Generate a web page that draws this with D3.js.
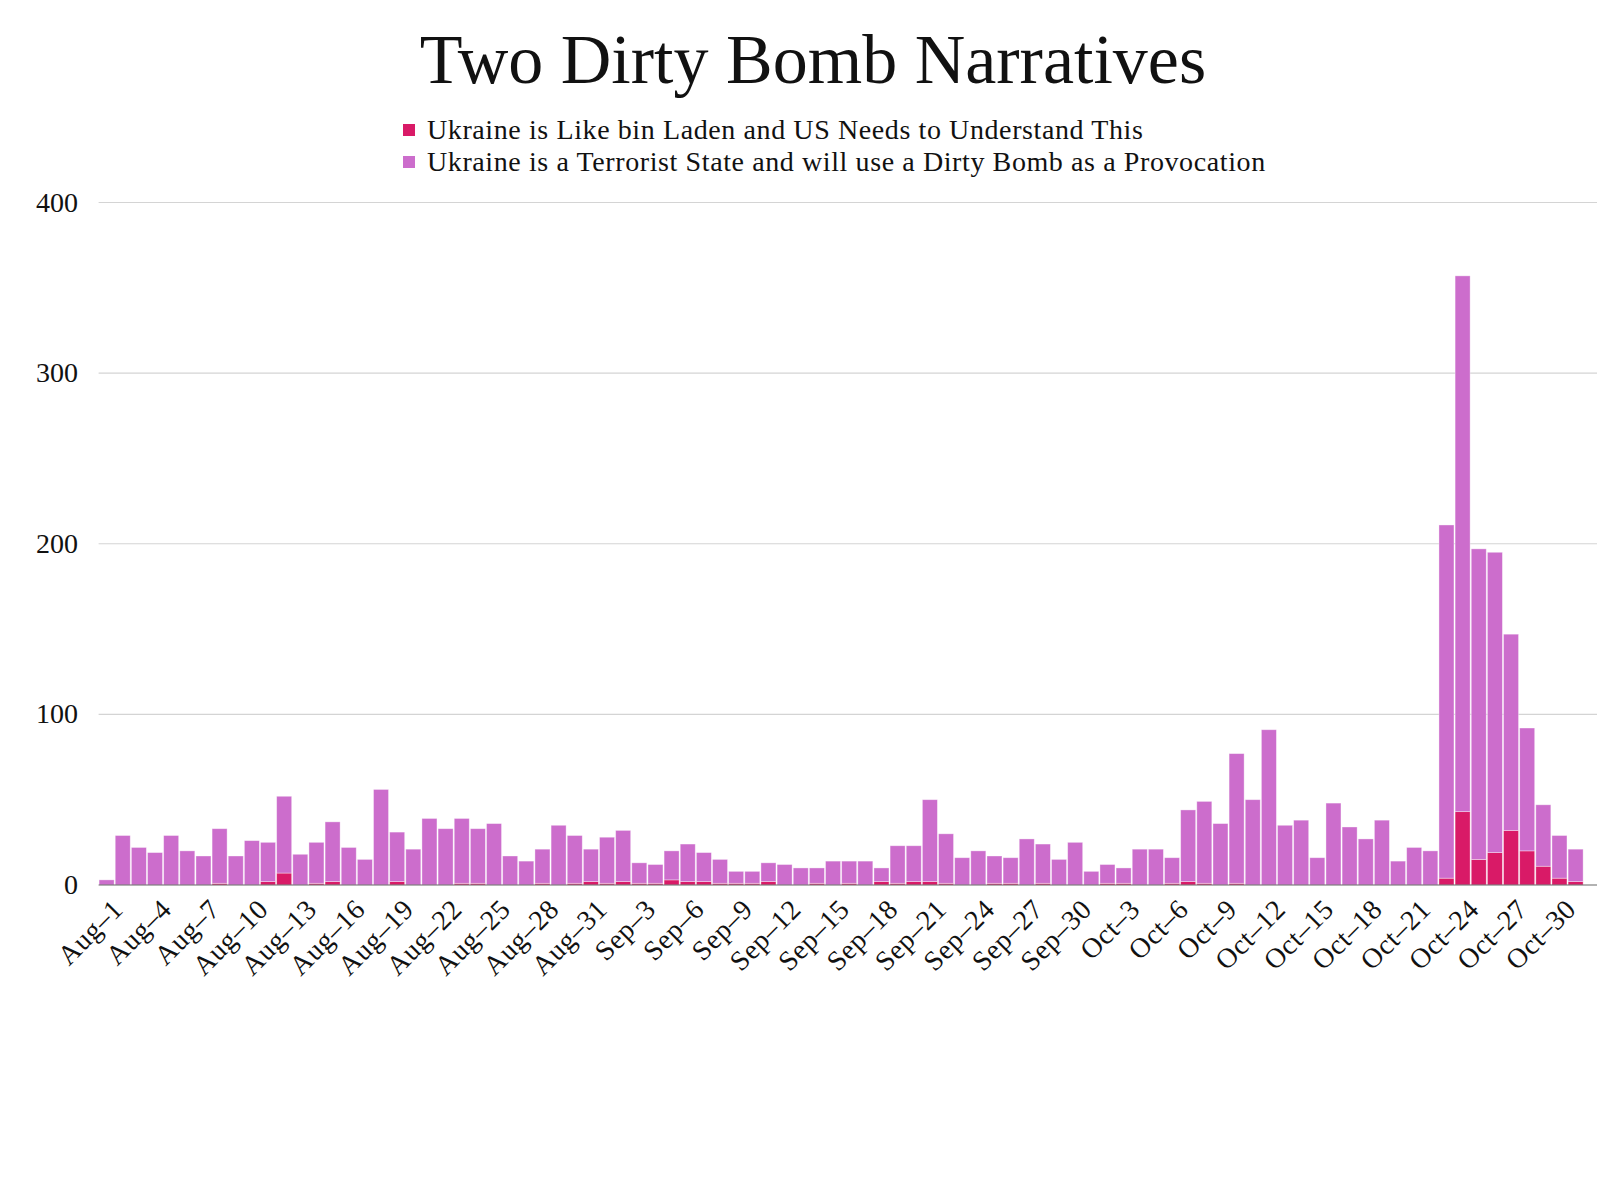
<!DOCTYPE html>
<html>
<head>
<meta charset="utf-8">
<script src="https://cdn.jsdelivr.net/npm/d3@7"></script>
<style>
  body { margin: 0; background: #fff; }
  svg text { font-family: "Liberation Serif", "DejaVu Serif", serif; fill: #111; }
</style>
</head>
<body>
<div id="chart"></div>
<script>
// daily counts, Aug 1 - Oct 31 (2022)
var binLaden = [
  0,0,0,0,0,0,0,1,0,0,2,7,0,1,2,0,0,0,2,0,0,0,1,1,0,0,0,1,0,1,2,
  1,2,1,1,3,2,2,1,1,1,2,0,0,1,0,1,0,2,1,2,2,1,0,0,1,1,0,1,0,0,
  0,1,1,0,0,1,2,1,0,1,0,0,0,0,0,0,0,0,0,0,0,0,4,43,15,19,32,20,11,4,2
];
var terrorist = [
  3,29,22,19,29,20,17,32,17,26,23,45,18,24,35,22,15,56,29,21,39,33,38,32,36,17,14,20,35,28,19,
  27,30,12,11,17,22,17,14,7,7,11,12,10,9,14,13,14,8,22,21,48,29,16,20,16,15,27,23,15,25,
  8,11,9,21,21,15,42,48,36,76,50,91,35,38,16,48,34,27,38,14,22,20,207,314,182,176,115,72,36,25,19
];
var seriesNames = [
  "Ukraine is Like bin Laden and US Needs to Understand This",
  "Ukraine is a Terrorist State and will use a Dirty Bomb as a Provocation"
];
var colors = ["#d91a67", "#cc6dcc"];
var yTicks = [0, 100, 200, 300, 400];
var tickLabels = ["Aug–1","Aug–4","Aug–7","Aug–10","Aug–13","Aug–16","Aug–19","Aug–22","Aug–25","Aug–28","Aug–31",
  "Sep–3","Sep–6","Sep–9","Sep–12","Sep–15","Sep–18","Sep–21","Sep–24","Sep–27","Sep–30",
  "Oct–3","Oct–6","Oct–9","Oct–12","Oct–15","Oct–18","Oct–21","Oct–24","Oct–27","Oct–30"];

var days = d3.timeDay.range(new Date(2022, 7, 1), new Date(2022, 10, 1));
var fmt = d3.timeFormat("%b–%-d");
var cats = days.map(fmt);

var width = 1620, height = 1200;
var x0 = 98.6, x1 = 1583.6, gridRight = 1597;

var svg = d3.select("#chart").append("svg")
    .attr("width", width)
    .attr("height", height);

var x = d3.scaleBand().domain(cats).range([x0, x1]).paddingInner(0.07).paddingOuter(0.03);
var y = d3.scaleLinear().domain([0, 400]).range([885, 202.5]);

// gridlines + y labels
svg.append("g").selectAll("line")
    .data(yTicks.slice(1))
  .enter().append("line")
    .attr("x1", x0).attr("x2", gridRight)
    .attr("y1", function(d){ return y(d); })
    .attr("y2", function(d){ return y(d); })
    .attr("stroke", "#d4d4d4").attr("stroke-width", 1.2);

svg.append("g").selectAll("text")
    .data(yTicks)
  .enter().append("text")
    .attr("x", 78)
    .attr("y", function(d){ return y(d) + 9; })
    .attr("text-anchor", "end")
    .style("font-size", "28px")
    .text(function(d){ return d; });

// stacked bars
var rows = cats.map(function(c, i){ return {date: c, a: binLaden[i], b: terrorist[i]}; });
var stack = d3.stack().keys(["a", "b"])(rows);

svg.append("g").selectAll("g")
    .data(stack)
  .enter().append("g")
    .attr("fill", function(d, i){ return colors[i]; })
  .selectAll("rect")
    .data(function(d){ return d; })
  .enter().append("rect")
    .attr("x", function(d){ return x(d.data.date); })
    .attr("width", x.bandwidth())
    .attr("y", function(d){ return y(d[1]); })
    .attr("height", function(d){ return Math.max(0, y(d[0]) - y(d[1])); })
    .attr("stroke", "#fff").attr("stroke-opacity", 0.45).attr("stroke-width", 0.8);

// baseline
svg.append("line")
    .attr("x1", x0).attr("x2", gridRight)
    .attr("y1", y(0)).attr("y2", y(0))
    .attr("stroke", "#666").attr("stroke-width", 1.2);

// x labels
svg.append("g").selectAll("text")
    .data(tickLabels)
  .enter().append("text")
    .attr("text-anchor", "end")
    .attr("transform", function(d){
      return "translate(" + (x(d) + x.bandwidth() / 2 + 18) + "," + (y(0) + 26) + ")rotate(-45)";
    })
    .style("font-size", "28px")
    .style("letter-spacing", "0.5px")
    .text(function(d){ return d; });

// title
svg.append("text")
    .attr("x", 813).attr("y", 83)
    .attr("text-anchor", "middle")
    .style("font-size", "70px")
    .text("Two Dirty Bomb Narratives");

// legend
var legend = svg.append("g").selectAll("g")
    .data(seriesNames)
  .enter().append("g")
    .attr("transform", function(d, i){ return "translate(403," + (124 + i * 32) + ")"; });
legend.append("rect")
    .attr("width", 12).attr("height", 12)
    .attr("fill", function(d, i){ return colors[i]; });
legend.append("text")
    .attr("x", 24).attr("y", 15)
    .style("font-size", "28px")
    .style("letter-spacing", "0.6px")
    .text(function(d){ return d; });
</script>
</body>
</html>
